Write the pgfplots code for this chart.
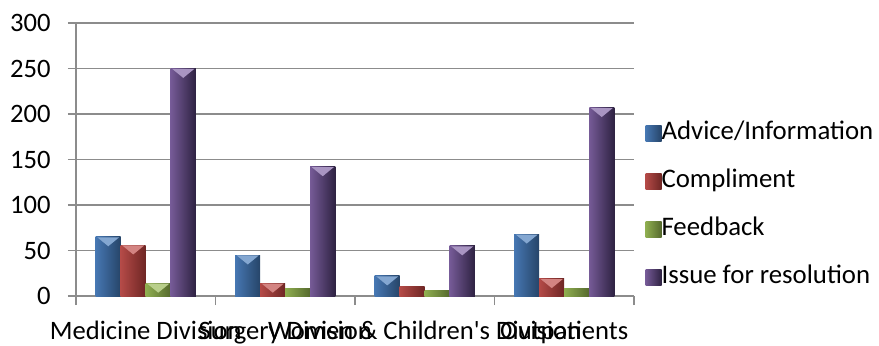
\documentclass[border=0pt]{standalone}
\usepackage{fontspec}
\setmainfont{Carlito}[Ligatures=TeXOff]
\usepackage{pgfplots}
\pgfplotsset{compat=1.18}
\usetikzlibrary{shapes.geometric}

\definecolor{advBase}{HTML}{4F81BD}\definecolor{advLight}{HTML}{4677B2}\definecolor{advDark}{HTML}{264468}
\definecolor{cmpBase}{HTML}{C0504D}\definecolor{cmpLight}{HTML}{B44A47}\definecolor{cmpDark}{HTML}{6E2624}
\definecolor{fbBase}{HTML}{9BBB59}\definecolor{fbLight}{HTML}{8FAE50}\definecolor{fbDark}{HTML}{55692D}
\definecolor{issBase}{HTML}{8467A8}\definecolor{issLight}{HTML}{755A96}\definecolor{issDark}{HTML}{2E2242}
\definecolor{gridgray}{HTML}{8C8C8C}

\pgfplotsset{
  advbar/.style={draw=none, left color=advLight, middle color=advBase, right color=advDark, bar shift=-18.75pt},
  cmpbar/.style={draw=none, left color=cmpLight, middle color=cmpBase, right color=cmpDark, bar shift=-6.25pt},
  fbbar/.style={draw=none, left color=fbLight, middle color=fbBase, right color=fbDark, bar shift=6.25pt},
  issbar/.style={draw=none, left color=issLight, middle color=issBase, right color=issDark, bar shift=18.75pt},
  % bevelled top of a bar: a light wedge hanging from the bar's top edge
  bevel/.style 2 args={nodes near coords={}, every node near coord/.style={
      anchor=north, xshift=#2, shape=isosceles triangle, shape border rotate=270,
      isosceles triangle stretches, minimum width=11pt, minimum height=4.5pt,
      inner sep=0pt, fill=#1, draw=none}},
}

\begin{document}
\begin{tikzpicture}
\useasboundingbox (0,0) rectangle (439.5pt,172.5pt);
\begin{axis}[
  at={(38pt,24.5pt)}, anchor=south west,
  scale only axis, width=279pt, height=136.5pt,
  ybar=0pt, bar width=12.5pt,
  xmin=-0.5, xmax=3.5, ymin=0, ymax=300,
  ytick={0,50,...,300},
  xtick={0,1,2,3},
  xticklabels={Medicine Division,Surgery Division,Women \& Children's Division,Outpatients},
  minor xtick={-0.5,0.5,1.5,2.5,3.5},
  axis lines*=left,
  axis line style={gridgray, line width=0.6pt},
  tick align=outside,
  major tick length=4pt, minor tick length=4.5pt,
  major x tick style={draw=none},
  minor x tick style={gridgray, line width=0.6pt},
  major y tick style={gridgray, line width=0.6pt},
  ymajorgrids,
  grid style={gridgray, line width=0.6pt},
  /pgf/number format/assume math mode=true,
  tick label style={font=\fontsize{13.3}{15}\selectfont, text=black},
  yticklabel style={inner sep=0pt, xshift=-8.5pt},
  xticklabel style={inner sep=0pt, anchor=north, yshift=-8.3pt},
  legend style={at={(rel axis cs:1.02,0.332)}, anchor=west, draw=none, fill=none,
    font=\fontsize{13.4}{15}\selectfont, inner sep=0pt, row sep=13pt,
    nodes={inner sep=0pt, text height=8.5pt, text depth=2.5pt}},
  legend cell align=left,
  /tikz/every even column/.append style={column sep=2.5pt},
  legend image code/.code={\path[#1, draw=none] (0pt,-4pt) rectangle (8pt,4pt);},
]
% Medicine Division
\addplot[forget plot, advbar, bevel={advBase!70!white}{-18.75pt}] coordinates {(0,65)};
\addplot[forget plot, cmpbar, bevel={cmpBase!70!white}{-6.25pt}] coordinates {(0,56)};
\addplot[forget plot, fbbar, bevel={fbBase!70!white}{6.25pt}] coordinates {(0,14)};
\addplot[forget plot, issbar, bevel={issBase!70!white}{18.75pt}] coordinates {(0,250)};
% Surgery Division
\addplot[forget plot, advbar, bevel={advBase!70!white}{-18.75pt}] coordinates {(1,45)};
\addplot[forget plot, cmpbar, bevel={cmpBase!70!white}{-6.25pt}] coordinates {(1,14)};
\addplot[forget plot, fbbar] coordinates {(1,8)};
\addplot[forget plot, issbar, bevel={issBase!70!white}{18.75pt}] coordinates {(1,142)};
% Women & Children's Division
\addplot[forget plot, advbar, bevel={advBase!70!white}{-18.75pt}] coordinates {(2,22)};
\addplot[forget plot, cmpbar] coordinates {(2,10)};
\addplot[forget plot, fbbar] coordinates {(2,6)};
\addplot[forget plot, issbar, bevel={issBase!70!white}{18.75pt}] coordinates {(2,55)};
% Outpatients
\addplot[forget plot, advbar, bevel={advBase!70!white}{-18.75pt}] coordinates {(3,68)};
\addplot[forget plot, cmpbar, bevel={cmpBase!70!white}{-6.25pt}] coordinates {(3,19)};
\addplot[forget plot, fbbar] coordinates {(3,8)};
\addplot[forget plot, issbar, bevel={issBase!70!white}{18.75pt}] coordinates {(3,207)};

\addlegendimage{draw=none, left color=advLight, middle color=advBase, right color=advDark}
\addlegendentry{Advice/Information}
\addlegendimage{draw=none, left color=cmpLight, middle color=cmpBase, right color=cmpDark}
\addlegendentry{Compliment}
\addlegendimage{draw=none, left color=fbLight, middle color=fbBase, right color=fbDark}
\addlegendentry{Feedback}
\addlegendimage{draw=none, left color=issLight, middle color=issBase, right color=issDark}
\addlegendentry{Issue for resolution}
\end{axis}
\end{tikzpicture}
\end{document}
